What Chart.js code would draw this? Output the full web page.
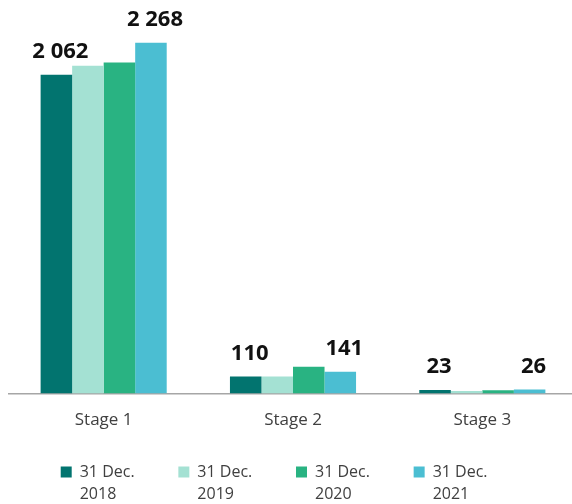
<!DOCTYPE html>
<html>
<head>
<meta charset="utf-8">
<script src="https://cdn.jsdelivr.net/npm/chart.js@4/dist/chart.umd.min.js"></script>
<style>
  html, body { margin: 0; padding: 0; background: #ffffff; overflow: hidden; }
  #wrap { position: relative; width: 578px; height: 504px; }
</style>
</head>
<body>
<div id="wrap"><canvas id="c" width="578" height="504"></canvas></div>
<script>
const categories = ['Stage 1', 'Stage 2', 'Stage 3'];
const seriesNames = [['31 Dec.', '2018'], ['31 Dec.', '2019'], ['31 Dec.', '2020'], ['31 Dec.', '2021']];
const values2018 = [2062, 110, 23];
const values2019 = [2120, 110, 17];
const values2020 = [2140, 174, 22];
const values2021 = [2268, 141, 26];
const labelledSeries = [0, 3];

const colors = ['#02746F', '#A4E1D3', '#29B382', '#4BBED2'];
const allValues = [values2018, values2019, values2020, values2021];

function fmt(v) {
  return String(v).replace(/\B(?=(\d{3})+(?!\d))/g, ' ');
}

const valueLabels = {
  id: 'valueLabels',
  afterDatasetsDraw(chart) {
    const ctx = chart.ctx;
    ctx.save();
    ctx.font = 'bold 22px "Open Sans"';
    ctx.fillStyle = '#111111';
    ctx.textAlign = 'center';
    ctx.textBaseline = 'alphabetic';
    labelledSeries.forEach(di => {
      const meta = chart.getDatasetMeta(di);
      meta.data.forEach((el, i) => {
        const v = chart.data.datasets[di].data[i];
        ctx.fillText(fmt(v), el.x + 4, el.y - 17);
      });
    });
    ctx.restore();
  }
};

const legendShift = {
  id: 'legendShift',
  afterLayout(chart) {
    if (chart.legend) {
      chart.legend.right += 3;
      chart.legend.bottom = chart.height;
    }
  }
};

new Chart(document.getElementById('c'), {
  type: 'bar',
  data: {
    labels: categories,
    datasets: allValues.map((vals, i) => ({
      label: seriesNames[i],
      data: vals,
      backgroundColor: colors[i],
      borderWidth: 0,
      categoryPercentage: 0.666,
      barPercentage: 1.0
    }))
  },
  options: {
    responsive: false,
    animation: false,
    devicePixelRatio: 1,
    layout: { padding: { left: 9, right: 1, top: 10, bottom: 14 } },
    scales: {
      x: {
        grid: { display: false, drawTicks: false },
        border: { display: true, color: '#a6a6a6', width: 1.5 },
        ticks: { color: '#404040', font: { family: '"Open Sans"', size: 17 }, padding: 16 },
        afterFit(scale) { scale.height += 15; }
      },
      y: {
        display: false,
        min: 0,
        max: 2480
      }
    },
    plugins: {
      legend: {
        position: 'bottom',
        labels: {
          color: '#404040',
          font: { family: '"Open Sans"', size: 16, lineHeight: 1.4 },
          boxWidth: 11,
          boxHeight: 11,
          padding: 3
        }
      },
      tooltip: { enabled: false }
    }
  },
  plugins: [valueLabels, legendShift]
});
</script>
</body>
</html>
